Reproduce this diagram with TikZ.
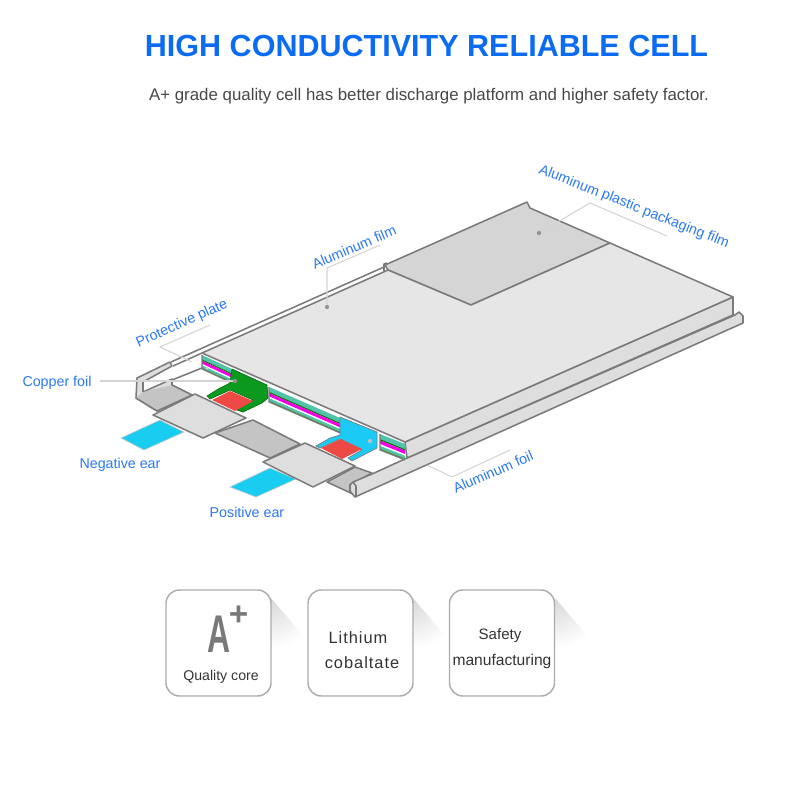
\documentclass[tikz,border=0pt]{standalone}
\usepackage{fontspec}
\setmainfont{Liberation Sans}
\usetikzlibrary{calc}
\definecolor{lblue}{HTML}{2A78F0}
\definecolor{tblue}{HTML}{0B6CF2}
\definecolor{edge}{HTML}{7A7A7A}
\definecolor{topc}{HTML}{E6E6E6}
\definecolor{sidec}{HTML}{DEDEDE}
\definecolor{darkc}{HTML}{D5D5D5}
\definecolor{floorc}{HTML}{C4C4C4}
\definecolor{padc}{HTML}{DEDEDE}
\definecolor{earc}{HTML}{19CDF0}
\definecolor{tabg}{HTML}{0B9A1E}
\definecolor{tabc}{HTML}{1CCBF5}
\definecolor{redc}{HTML}{EE4A45}
\definecolor{teal}{HTML}{4FC4A8}
\definecolor{magc}{HTML}{F000E0}
\definecolor{leader}{HTML}{D4D4D4}
\newcommand{\fs}[1]{\fontsize{#1pt}{#1pt}\selectfont}
\newcommand{\band}[5]{\fill[#5] ($(#1)+(0,#3)$) -- ($(#2)+(0,#3)$) -- ($(#2)+(0,#4)$) -- ($(#1)+(0,#4)$) -- cycle;}
\newcommand{\stack}[3]{%
  \fill[white] ($(#1)+(0,0)$) -- (#2) -- ($(#2)+(0,#3)$) -- ($(#1)+(0,#3)$) -- cycle;
  \band{#1}{#2}{0}{#3*0.32}{teal}
  \band{#1}{#2}{#3*0.32}{#3*0.40}{green!45!black}
  \band{#1}{#2}{#3*0.40}{#3*0.62}{magc}
  \band{#1}{#2}{#3*0.74}{#3*0.90}{teal}
  \band{#1}{#2}{#3*0.90}{#3}{green!40!black!70}
  \draw[edge,line width=0.8pt] (#1) -- ++(0,#3) -- ($(#2)+(0,#3)$);
}
\tikzset{
  x=0.75pt,y=-0.75pt,
  shape line/.style={draw=edge,line width=1.15pt,line join=round},
  lab/.style={text=lblue,inner sep=0pt,font=\fs{10.7}},
  lead/.style={draw=leader,line width=0.8pt},
  dotmark/.style={circle,fill=gray!85,inner sep=0pt,minimum size=3.2pt},
  card/.style={draw=gray!65,line width=1.1pt,rounded corners=10pt,fill=white},
  cardtext/.style={text=black!80,inner sep=0pt},
}
\begin{document}
\begin{tikzpicture}
\useasboundingbox (0,0) rectangle (800,800);
% ---- titles
\node[inner sep=0pt,text=tblue,font=\bfseries\fs{22.9}] (title) at (426.5,45.5) {HIGH CONDUCTIVITY RELIABLE CELL};
\node[inner sep=0pt,text=black!72,font=\fs{12.64}] (sub) at (429,96) {A+ grade quality cell has better discharge platform and higher safety factor.};
% ---- left bracket and rail
\filldraw[shape line,fill=sidec] (137,378) -- (170,362) -- (172,366) -- (143,382) -- (143,392) -- (172,379) -- (172,385) -- (192,395) -- (157,411) -- (136,398) -- cycle;
\fill[floorc] (136,398) -- (143,392) -- (172,385) -- (192,395) -- (157,411) -- cycle;
\draw[shape line] (136,398) -- (157,411) -- (192,395) -- (172,385) -- (172,380) -- (202,368);
\draw[shape line] (171,362) -- (384,267);
\draw[shape line] (173,366) -- (202,353);
% ---- floor strips
\filldraw[shape line,fill=floorc] (215,433) -- (253,420) -- (300,444) -- (270,458) -- cycle;
% ---- ears
\filldraw[edge!40,fill=earc,line width=0.5pt] (121,438) -- (160,420) -- (184,432) -- (144,450) -- cycle;
\filldraw[edge!40,fill=earc,line width=0.5pt] (230,487) -- (270,468) -- (296,479) -- (256,497) -- cycle;
% ---- right floor and fold
\filldraw[shape line,fill=floorc] (327,482) -- (355,467) -- (372,473) -- (350,485) -- (350,490) -- (355,495) -- cycle;
\filldraw[shape line,fill=sidec] (350,485) -- (353,482) -- (372,474) -- (407,458) -- (735,315) -- (739,312) -- (743,316) -- (743,323) -- (355,497) -- (350,491) -- cycle;
\draw[shape line] (353,482) -- (356,486) -- (356,497);
% ---- cell body
\filldraw[shape line,fill=sidec] (405,442) -- (733,297) -- (733,315) -- (407,458) -- cycle;
\filldraw[shape line,fill=darkc] (385,265) -- (527,202) -- (530,208) -- (610,243) -- (471,305) -- (388,270) -- cycle;
\draw[shape line] (384,271) -- (384,264) -- (387,263);
\filldraw[shape line,fill=topc] (202,353) -- (388,270) -- (471,305) -- (610,243) -- (733,297) -- (405,442) -- cycle;
% ---- layer stacks
\coordinate (s1a) at (202,355); \coordinate (s1b) at (232,369);
\coordinate (s2a) at (269,387); \coordinate (s2b) at (340,418);
\coordinate (s3a) at (380,434); \coordinate (s3b) at (405,444);
\stack{s1a}{s1b}{14}
\stack{s2a}{s2b}{15}
\stack{s3a}{s3b}{16}
% ---- tabs
\filldraw[draw=tabg!70!black,fill=tabg,line width=0.5pt] (232,369) -- (267,385) -- (268,398) -- (262,403) -- (243,412) -- (237,410) -- (253,400) -- (230,390) -- (210,399) -- (207,396) -- (220,388) -- (230,383) -- cycle;
\fill[redc] (212,400) -- (230,391) -- (253,401) -- (235,411) -- cycle;
\filldraw[draw=edge,fill=tabc,line width=0.5pt] (340,417) -- (377,432) -- (377,448) -- (352,461) -- (348,458) -- (362,450) -- (340,439) -- (320,448) -- (316,446) -- (330,438) -- (340,435) -- cycle;
\fill[redc] (321,448) -- (341,439) -- (362,449) -- (342,459) -- cycle;
% ---- pads
\filldraw[shape line,fill=padc] (153,415) -- (195,394) -- (246,418) -- (203,438) -- cycle;
\filldraw[shape line,fill=padc] (263,462) -- (305,443) -- (355,466) -- (313,487) -- cycle;
% ---- labels
\node[lab,rotate=-21.5] (lpack) at (634,207) {Aluminum plastic packaging film};
\node[lab,rotate=23] (lfilm) at (354,247) {Aluminum film};
\node[lab,rotate=24] (lplate) at (182,324) {Protective plate};
\node[lab] (lcopper) at (57,383) {Copper foil};
\node[lab] (lneg) at (120,465) {Negative ear};
\node[lab] (lpos) at (247,512) {Positive ear};
\node[lab,rotate=23.5] (lfoil) at (493,472) {Aluminum foil};
% ---- leaders
\node[dotmark] (dpack) at (539,233) {};
\node[dotmark] (dfilm) at (327,307) {};
\node[dotmark] (dcopper) at (235,381) {};
\node[dotmark,fill=gray!50] (dplus) at (370,441) {};
\node[dotmark,fill=gray!30,minimum size=2.5pt] (dleft) at (207,368) {};
\coordinate (a1) at (590,203); \coordinate (a2) at (667,236);
\coordinate (b1) at (327,268); \coordinate (b2) at (380,245);
\coordinate (c0) at (210,325); \coordinate (c1) at (160,347); \coordinate (c2) at (192,362);
\coordinate (d0) at (100,381);
\coordinate (e0) at (510,450); \coordinate (e1) at (452,477); \coordinate (e2) at (427,465);
\draw[lead] (dpack) -- (a1) -- (a2);
\draw[lead] (dfilm) -- (b1) -- (b2);
\draw[lead] (c0) -- (c1) -- (c2);
\draw[lead] (d0) -- (dcopper);
\draw[lead] (e0) -- (e1) -- (e2);
% ---- card shadows
\foreach \cx in {271,413,555}{
  \begin{scope}
    \clip (\cx,598) -- (\cx+36,640) -- (\cx,690) -- cycle;
    \shade[inner color=gray!30,outer color=white] (\cx,600) circle[radius=48];
  \end{scope}
}
% ---- cards
\node[card,minimum width=78.75pt,minimum height=79.5pt] (c1box) at (218.5,643) {};
\node[card,minimum width=78.75pt,minimum height=79.5pt] (c2box) at (360.5,643) {};
\node[card,minimum width=78.75pt,minimum height=79.5pt] (c3box) at (502,643) {};
\node[inner sep=0pt,text=gray!95!black,font=\bfseries\fs{39.8}] (aletter) at (218.5,634) {\scalebox{0.6}[1]{A}};
\node[inner sep=0pt,text=gray!95!black,font=\bfseries\fs{25}] (aplus) at (238.5,616) {+};
\node[cardtext,font=\fs{10.6}] (qual) at (221,676.5) {Quality core};
\node[cardtext,font=\fs{12.3}\addfontfeature{LetterSpace=6}] (lith) at (358,637.5) {Lithium};
\node[cardtext,font=\fs{12.3}\addfontfeature{LetterSpace=6}] (cob) at (362,663) {cobaltate};
\node[cardtext,font=\fs{11.3}] (saf) at (500,636) {Safety};
\node[cardtext,font=\fs{11.7}] (man) at (502,661) {manufacturing};
\end{tikzpicture}
\end{document}
